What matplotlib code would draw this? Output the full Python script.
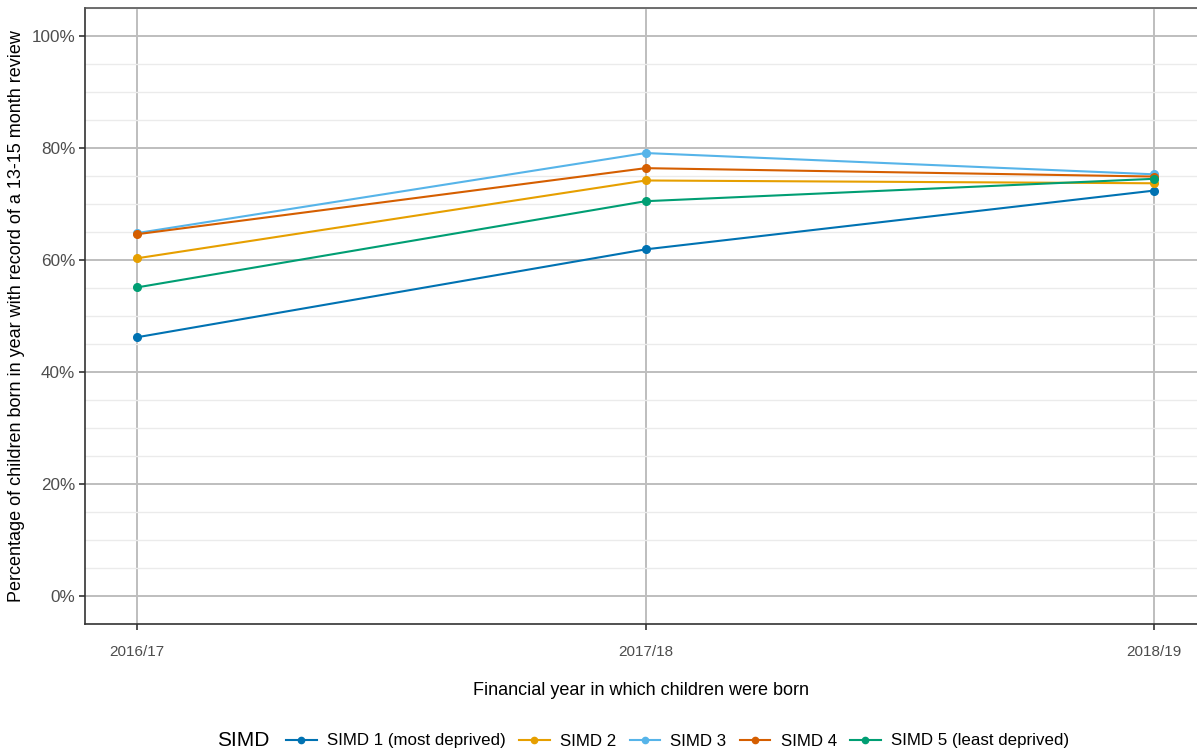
import matplotlib
matplotlib.use("Agg")
import matplotlib.pyplot as plt
from matplotlib.ticker import MultipleLocator, FuncFormatter
from matplotlib.lines import Line2D
from matplotlib.offsetbox import HPacker

plt.rcParams['font.family'] = ['Liberation Sans', 'DejaVu Sans']

years = ["2016/17", "2017/18", "2018/19"]
series_names = ["SIMD 1 (most deprived)", "SIMD 2", "SIMD 3", "SIMD 4", "SIMD 5 (least deprived)"]
simd1 = [46.2, 61.9, 72.4]
simd2 = [60.3, 74.2, 73.7]
simd3 = [64.8, 79.1, 75.3]
simd4 = [64.6, 76.4, 74.9]
simd5 = [55.1, 70.5, 74.5]
values = [simd1, simd2, simd3, simd4, simd5]
colors = ["#0072B2", "#E69F00", "#56B4E9", "#D55E00", "#009E73"]

fig = plt.figure(figsize=(11.97, 7.53), dpi=100)
ax = fig.add_axes([85/1197, 1-624/753, 1-85/1197, (624-8)/753])

x = list(range(len(years)))
for name, v, c in zip(series_names, values, colors):
    ax.plot(x, v, color=c, lw=1.5, marker='o', ms=5.5, label=name, zorder=3)

ax.set_xlim(-0.102, 2.084)
ax.set_ylim(-5, 105)
ax.set_xticks(x)
ax.set_xticklabels(years)
ax.yaxis.set_major_locator(MultipleLocator(20))
ax.yaxis.set_minor_locator(MultipleLocator(5))
ax.yaxis.set_major_formatter(FuncFormatter(lambda v, p: f"{v:.0f}%"))

ax.grid(True, which='major', axis='both', color='#bebebe', lw=1.4, zorder=0)
ax.grid(True, which='minor', axis='y', color='#ebebeb', lw=1.0, zorder=0)
ax.set_axisbelow(True)

ax.tick_params(axis='y', which='major', labelsize=12.3, labelcolor='#4d4d4d', length=4, width=1.2, color='#333333', pad=3)
ax.tick_params(axis='x', which='major', labelsize=11, labelcolor='#4d4d4d', length=4, width=1.2, color='#333333', pad=11)
ax.tick_params(axis='y', which='minor', length=0)

for s in ['left', 'bottom', 'top']:
    ax.spines[s].set_color('#333333')
    ax.spines[s].set_linewidth(1.2)
ax.spines['top'].set_color('#555555')
ax.spines['right'].set_visible(False)

ax.set_xlabel("Financial year in which children were born", fontsize=13, labelpad=17)
ax.set_ylabel("Percentage of children born in year with record of a 13-15 month review", fontsize=13, labelpad=5)

handles = [Line2D([0], [0], color=c, lw=1.5, marker='o', ms=4.5) for c in colors]
leg = fig.legend(handles, series_names, loc='center', bbox_to_anchor=(643/1197, 1-741/753),
                 ncol=5, frameon=False, fontsize=12.2, title="SIMD", title_fontsize=15,
                 handlelength=1.8, handletextpad=0.6, columnspacing=0.8)
title_box = leg._legend_title_box
leg._legend_box._children = [HPacker(children=[title_box, leg._legend_handle_box], pad=0, sep=12, align='center')]

fig.savefig("out.png", dpi=100)
